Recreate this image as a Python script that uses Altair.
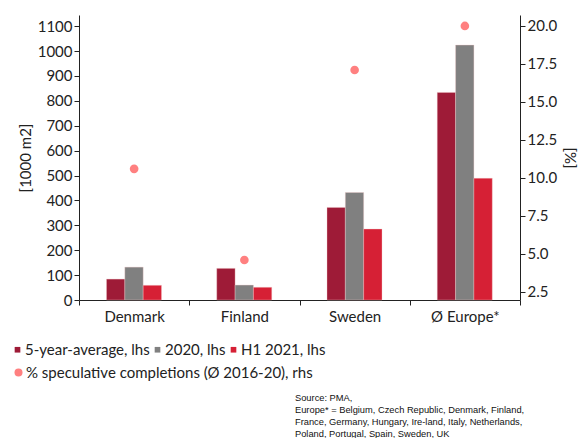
import altair as alt
import pandas as pd

categories = ["Denmark", "Finland", "Sweden", "Ø Europe*"]
series = ["5-year-average, lhs", "2020, lhs", "H1 2021, lhs"]
avg5 = [84, 127, 372, 834]
y2020 = [132, 60, 432, 1024]
h1_2021 = [59, 51, 285, 489]
spec_pct = [10.6, 4.6, 17.1, 20.0]
dot_label = "% speculative completions (Ø 2016-20), rhs"
bar_colors = ["#9e1b37", "#808080", "#d62035"]
dot_color = "#ff8080"
source_lines = [
    "Source: PMA,",
    "Europe* = Belgium, Czech Republic, Denmark, Finland,",
    "France, Germany, Hungary, Ire-land, Italy, Netherlands,",
    "Poland, Portugal, Spain, Sweden, UK",
]

rows = []
for i, c in enumerate(categories):
    for s, vals in zip(series, [avg5, y2020, h1_2021]):
        rows.append({"cat": c, "series": s, "value": vals[i]})
bars_df = pd.DataFrame(rows)
dots_df = pd.DataFrame({"cat": categories, "pct": spec_pct, "lab": [dot_label] * 4})

FONT = "Lato"

x_enc = alt.X(
    "cat:N",
    sort=categories,
    scale=alt.Scale(paddingInner=0, paddingOuter=0),
    axis=alt.Axis(title=None, labelAngle=0, tickBand="extent", labelFontSize=15,
                  labelPadding=4, tickSize=5, domainColor="#222", tickColor="#222",
                  labelColor="#222", labelFont=FONT),
)

bars = alt.Chart(bars_df).mark_bar(stroke="#f0c8c8", strokeWidth=0.6, strokeOpacity=0.6).encode(
    x=x_enc,
    xOffset=alt.XOffset("series:N", sort=series,
                        scale=alt.Scale(range=[27.5, 82.5], paddingOuter=0, paddingInner=0)),
    y=alt.Y("value:Q", scale=alt.Scale(domain=[0, 1145], nice=False),
            axis=alt.Axis(title="[1000 m2]", values=list(range(0, 1101, 100)), format="d",
                          grid=False, labelFontSize=15, titleFontSize=15, titleFontWeight="normal",
                          titleFont=FONT, labelFont=FONT, tickSize=5, titlePadding=4,
                          domainColor="#222", tickColor="#222", labelColor="#222", titleColor="#222")),
    color=alt.Color("series:N", sort=series,
                    scale=alt.Scale(domain=series, range=bar_colors),
                    legend=alt.Legend(title=None, orient="none", legendX=-69, legendY=327,
                                      direction="horizontal", symbolType="square", symbolSize=32,
                                      labelFontSize=15, labelFont=FONT, labelColor="#222",
                                      columnPadding=0, labelOffset=0, symbolStrokeWidth=0,
                                      labelLimit=0, padding=0)),
)

dots = alt.Chart(dots_df).mark_circle(size=75, opacity=1).encode(
    x=alt.X("cat:N", sort=categories),
    y=alt.Y("pct:Q", scale=alt.Scale(domain=[1.97, 20.72], nice=False, zero=False),
            axis=alt.Axis(title="[%]", orient="right", values=[2.5, 5, 7.5, 10, 12.5, 15, 17.5, 20],
                          format=".1f", grid=False, labelFontSize=15, titleFontSize=15,
                          titleFontWeight="normal", titleFont=FONT, labelFont=FONT, tickSize=5,
                          titlePadding=5, domainColor="#222", tickColor="#222",
                          labelColor="#222", titleColor="#222")),
    color=alt.Color("lab:N", scale=alt.Scale(domain=[dot_label], range=[dot_color]),
                    legend=alt.Legend(title=None, orient="none", legendX=-68, legendY=350,
                                      symbolType="circle", symbolSize=64, labelFontSize=15,
                                      labelFont=FONT, labelColor="#222", labelOffset=0,
                                      symbolStrokeWidth=0, labelLimit=0, padding=0)),
)

src_df = pd.DataFrame({"t": source_lines, "i": list(range(len(source_lines)))})
source = alt.Chart(src_df).mark_text(
    align="left", baseline="middle", fontSize=9.3, font="Liberation Sans", color="#111"
).encode(
    text="t:N",
    x=alt.value(216),
    y=alt.Y("i:O", axis=None, scale=alt.Scale(range=[383, 419], padding=0)),
)

chart = alt.layer(bars, dots, source).resolve_scale(
    y="independent", color="independent"
).properties(
    width=441, height=285,
    autosize=alt.AutoSizeParams(type="none"),
    padding={"left": 79, "top": 15, "right": 59, "bottom": 138},
).configure_view(stroke=None)

chart.save("out.html", embed_options={"renderer": "svg", "actions": False})
